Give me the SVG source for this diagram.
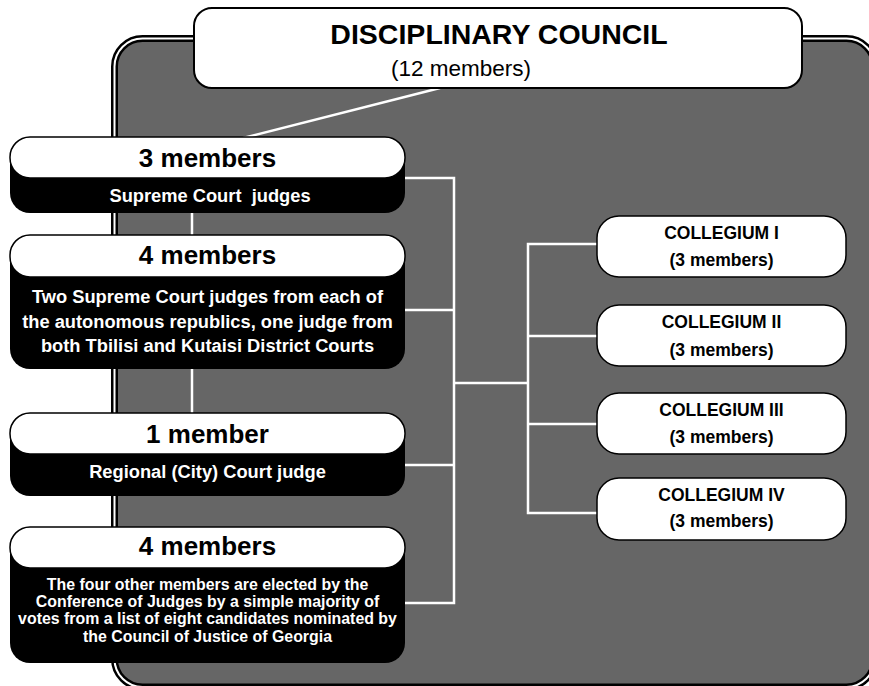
<svg xmlns="http://www.w3.org/2000/svg" width="869" height="686" viewBox="0 0 869 686">
<style>
text{font-family:"Liberation Sans",Arial,sans-serif;text-anchor:middle;}
.h{font-size:26px;font-weight:bold;fill:#000;}
.d{font-size:18.3px;font-weight:bold;fill:#fff;}
.s{font-size:15.9px;font-weight:bold;fill:#fff;}
.c{font-size:17.5px;font-weight:bold;fill:#000;}
.body{fill:#000;}
.top{fill:#fff;stroke:#000;stroke-width:1.5;}
.col{fill:#fff;stroke:#000;stroke-width:1.5;}
.ln{stroke:#fff;stroke-width:2.5;fill:none;}
</style>
<rect width="869" height="686" fill="#fff"/>
<g id="panel">
<rect x="114.5" y="38.5" width="760" height="648.5" rx="28" fill="#666" stroke="#000" stroke-width="7"/>
<rect x="114.5" y="38.5" width="760" height="648.5" rx="28" fill="none" stroke="#fff" stroke-width="2"/>
</g>
<g id="connectors">
<line class="ln" x1="440" y1="88" x2="243" y2="138"/>
<line class="ln" x1="192" y1="212" x2="192" y2="414"/>
<polyline class="ln" points="405,178 454,178 454,603 405,603"/>
<line class="ln" x1="405" y1="310" x2="454" y2="310"/>
<line class="ln" x1="405" y1="465" x2="454" y2="465"/>
<line class="ln" x1="454" y1="383" x2="528" y2="383"/>
<polyline class="ln" points="597,244 528,244 528,513 597,513"/>
<line class="ln" x1="528" y1="336" x2="597" y2="336"/>
<line class="ln" x1="528" y1="424" x2="597" y2="424"/>
</g>
<g id="title">
<rect x="194" y="8" width="608" height="80" rx="18" fill="#fff" stroke="#000" stroke-width="2"/>
<text x="499" y="44" style="font-size:28.5px;font-weight:bold;fill:#000">DISCIPLINARY COUNCIL</text>
<text x="461" y="76" style="font-size:22.5px;fill:#000">(12 members)</text>
</g>
<g id="box1">
<rect class="body" x="10" y="137" width="395" height="76" rx="20"/>
<rect class="top" x="10" y="137" width="395" height="41" rx="20"/>
<text class="h" x="207.5" y="167">3 members</text>
<text class="d" x="210" y="202" xml:space="preserve">Supreme Court  judges</text>
</g>
<g id="box2">
<rect class="body" x="10" y="235" width="395" height="134" rx="20"/>
<rect class="top" x="10" y="235" width="395" height="42" rx="20"/>
<text class="h" x="207.5" y="264">4 members</text>
<text class="d" x="207.5" y="303">Two Supreme Court judges from each of</text>
<text class="d" x="207.5" y="328">the autonomous republics, one judge from</text>
<text class="d" x="207.5" y="352">both Tbilisi and Kutaisi District Courts</text>
</g>
<g id="box3">
<rect class="body" x="10" y="413" width="395" height="83" rx="20"/>
<rect class="top" x="10" y="413" width="395" height="41" rx="20"/>
<text class="h" x="207.5" y="443">1 member</text>
<text class="d" x="207.5" y="478">Regional (City) Court judge</text>
</g>
<g id="box4">
<rect class="body" x="10" y="527" width="395" height="136" rx="20"/>
<rect class="top" x="10" y="527" width="395" height="41" rx="20"/>
<text class="h" x="207.5" y="555">4 members</text>
<text class="s" x="207.5" y="590">The four other members are elected by the</text>
<text class="s" x="207.5" y="607">Conference of Judges by a simple majority of</text>
<text class="s" x="207.5" y="624">votes from a list of eight candidates nominated by</text>
<text class="s" x="207.5" y="642">the Council of Justice of Georgia</text>
</g>
<g id="col1">
<rect class="col" x="597" y="216" width="249" height="61" rx="22"/>
<text class="c" x="721.5" y="239">COLLEGIUM I</text>
<text class="c" x="721.5" y="266">(3 members)</text>
</g>
<g id="col2">
<rect class="col" x="597" y="305" width="249" height="61" rx="22"/>
<text class="c" x="721.5" y="328">COLLEGIUM II</text>
<text class="c" x="721.5" y="356">(3 members)</text>
</g>
<g id="col3">
<rect class="col" x="597" y="393" width="249" height="61" rx="22"/>
<text class="c" x="721.5" y="416">COLLEGIUM III</text>
<text class="c" x="721.5" y="443">(3 members)</text>
</g>
<g id="col4">
<rect class="col" x="597" y="478" width="249" height="62" rx="22"/>
<text class="c" x="721.5" y="501">COLLEGIUM IV</text>
<text class="c" x="721.5" y="527">(3 members)</text>
</g>
</svg>
